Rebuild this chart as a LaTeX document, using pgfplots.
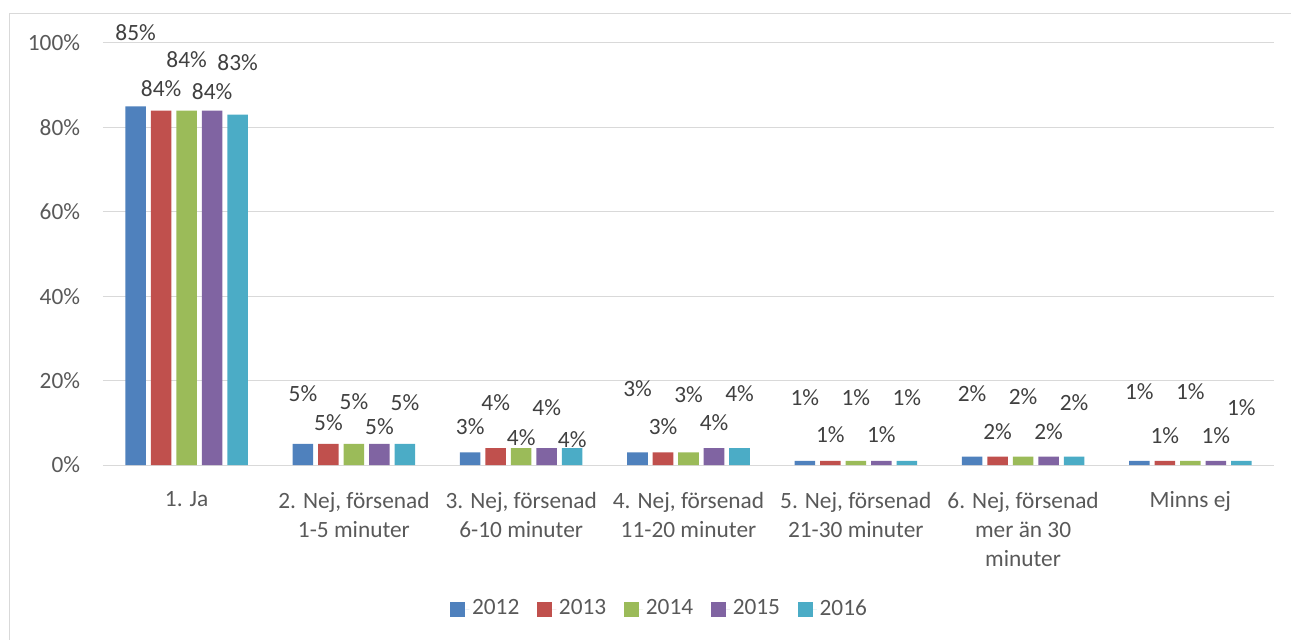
\documentclass[border=0pt]{standalone}
\usepackage{pgfplots}
\pgfplotsset{compat=1.18}
\usepackage{pgfplotstable}
\usepackage{fontspec}
\setmainfont{Carlito}
\definecolor{c1}{HTML}{4F81BD}
\definecolor{c2}{HTML}{C0504D}
\definecolor{c3}{HTML}{9BBB59}
\definecolor{c4}{HTML}{8064A2}
\definecolor{c5}{HTML}{4BACC6}
\definecolor{gridgray}{HTML}{D9D9D9}
\definecolor{axisgray}{HTML}{595959}
\definecolor{labgray}{HTML}{404040}
\newcommand{\fs}{\fontsize{17.5}{21.75}\selectfont}
\pgfplotstableread{
x y2012 y2013 y2014 y2015 y2016 l2012 l2013 l2014 l2015 l2016
0 85 84 84 84 83 102.4 89.1 96.0 88.4 95.3
1 5 5 5 5 5 16.8 10.0 14.9 9.0 14.7
2 3 4 4 4 4 9.0 14.7 6.4 13.5 5.9
3 3 3 3 4 4 18.0 9.0 16.6 10.0 16.8
4 1 1 1 1 1 15.9 7.1 15.9 7.1 15.9
5 2 2 2 2 2 16.8 7.8 16.1 7.8 14.7
6 1 1 1 1 1 17.5 6.9 17.5 6.9 13.7
}\data
\begin{document}
\fs
\begin{tikzpicture}
\useasboundingbox (0,0) rectangle (968.25pt,479.25pt);
\draw[gridgray, line width=0.75pt] (7.1pt,-20pt) rectangle (1000pt,468.75pt);
\begin{axis}[
  at={(77.25pt,130.5pt)}, anchor=south west,
  scale only axis, width=878.25pt, height=316.5pt,
  xmin=-0.5, xmax=6.5, ymin=0, ymax=100,
  clip=false,
  /pgf/number format/assume math mode=true,
  axis line style={draw=none},
  major tick length=0pt,
  tick style={draw=none},
  ymajorgrids, major grid style={gridgray, line width=0.75pt},
  ytick={0,20,40,60,80,100},
  yticklabel={\pgfmathprintnumber{\tick}\%},
  yticklabel style={anchor=east, inner sep=0pt, xshift=-17pt, text=axisgray, font=\fs},
  xtick={0,...,6},
  xticklabels={1. Ja, {2. Nej, försenad\\1-5 minuter}, {3. Nej, försenad\\6-10 minuter}, {4. Nej, försenad\\11-20 minuter}, {5. Nej, försenad\\21-30 minuter}, {6. Nej, försenad\\mer än 30\\minuter}, Minns ej},
  xticklabel style={align=center, anchor=north, inner sep=0pt, yshift=-20pt, text=axisgray, font=\fs},
  legend columns=5,
  legend style={at={(0.4757,-0.3415)}, anchor=center, draw=none, fill=none, text=axisgray, font=\fs,
    /tikz/every even column/.append style={column sep=11.5pt}},
  mybar/.style={ybar, bar width=15.4pt, draw=none,
    legend image code/.code={\fill[##1] (0pt,-5.6pt) rectangle (11.2pt,5.6pt); \path (11.2pt,0pt) -- (14.2pt,0pt);}},
  lab/.style={draw=none, mark=none, forget plot, nodes near coords={\pgfmathprintnumber{\pgfplotspointmeta}\%},
    point meta=explicit,
    nodes near coords style={anchor=center, text=labgray, font=\fs, xshift=#1}},
]
\addplot[mybar, fill=c1, bar shift=-38.25pt] table[x=x, y=y2012] {\data};
\addplot[mybar, fill=c2, bar shift=-19.125pt] table[x=x, y=y2013] {\data};
\addplot[mybar, fill=c3, bar shift=0pt] table[x=x, y=y2014] {\data};
\addplot[mybar, fill=c4, bar shift=19.125pt] table[x=x, y=y2015] {\data};
\addplot[mybar, fill=c5, bar shift=38.25pt] table[x=x, y=y2016] {\data};
\legend{2012,2013,2014,2015,2016}
\addplot[lab=-38.25pt] table[x=x, y=l2012, meta=y2012] {\data};
\addplot[lab=-19.125pt] table[x=x, y=l2013, meta=y2013] {\data};
\addplot[lab=0pt] table[x=x, y=l2014, meta=y2014] {\data};
\addplot[lab=19.125pt] table[x=x, y=l2015, meta=y2015] {\data};
\addplot[lab=38.25pt] table[x=x, y=l2016, meta=y2016] {\data};
\end{axis}
\end{tikzpicture}
\end{document}
